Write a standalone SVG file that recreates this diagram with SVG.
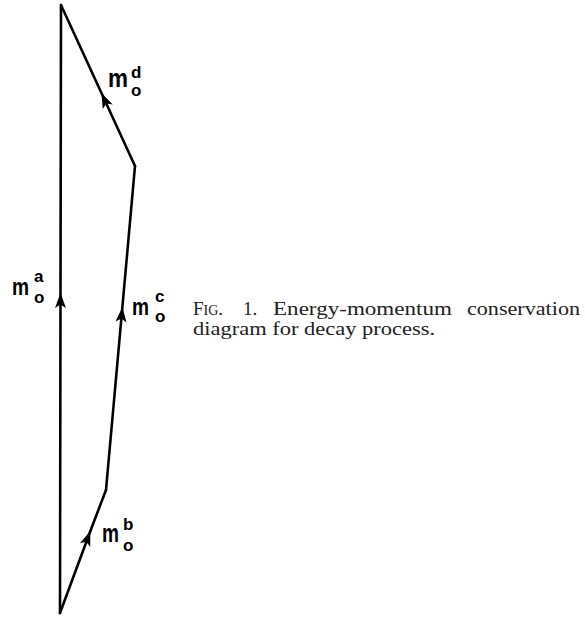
<svg xmlns="http://www.w3.org/2000/svg" width="585" height="620" viewBox="0 0 585 620">
<defs>
<marker id="arr" markerUnits="userSpaceOnUse" markerWidth="18" markerHeight="14" viewBox="-16 -7 18 14" refX="0" refY="0" orient="auto">
<path d="M1,0 L-14,-5.5 L-10.5,0 L-14,5.5 Z" fill="#000"/>
</marker>
<style>
.vec{fill:none;stroke:#000;stroke-width:2.6;stroke-linejoin:round;stroke-linecap:round;marker-mid:url(#arr)}
.lab{font-family:"Liberation Sans",Arial,sans-serif;font-weight:bold;fill:#000}
.s{font-size:17px}
.cap{font-family:"Liberation Serif","Times New Roman",serif;fill:#222;font-size:19px}
</style>
</defs>
<rect width="585" height="620" fill="#fff"/>
<g id="connectors">
<path id="vec-a" class="vec" d="M60,613 L60.5,294 L61,5"/>
<path id="vec-b" class="vec" d="M60,613 L90,532 L106,490"/>
<path id="vec-c" class="vec" d="M106,490 L122.3,308 L135,166"/>
<path id="vec-d" class="vec" d="M135,166 L101.9,94 L61,5"/>
</g>
<g id="label-a">
<text class="lab"><tspan x="12" y="295" font-size="24" textLength="17" lengthAdjust="spacingAndGlyphs">m</tspan><tspan class="s" x="34" y="282">a</tspan><tspan class="s" x="34" y="303">o</tspan></text>
</g>
<g id="label-b">
<text class="lab"><tspan x="102" y="542" font-size="25" textLength="17" lengthAdjust="spacingAndGlyphs">m</tspan><tspan class="s" x="123" y="530">b</tspan><tspan class="s" x="123" y="551">o</tspan></text>
</g>
<g id="label-c">
<text class="lab"><tspan x="132" y="315" font-size="23" textLength="17" lengthAdjust="spacingAndGlyphs">m</tspan><tspan class="s" x="155" y="302">c</tspan><tspan class="s" x="155" y="322">o</tspan></text>
</g>
<g id="label-d">
<text class="lab"><tspan x="108" y="87" font-size="26" textLength="20" lengthAdjust="spacingAndGlyphs">m</tspan><tspan class="s" x="131" y="78">d</tspan><tspan class="s" x="131" y="96">o</tspan></text>
</g>
<g id="caption">
<text class="cap" x="193" y="315">F<tspan font-size="14">IG</tspan>.</text>
<text class="cap" x="243" y="315">1.</text>
<text class="cap" x="273" y="315" textLength="179" lengthAdjust="spacingAndGlyphs">Energy-momentum</text>
<text class="cap" x="467" y="315" textLength="113" lengthAdjust="spacingAndGlyphs">conservation</text>
<text class="cap" x="193" y="335" textLength="242" lengthAdjust="spacingAndGlyphs">diagram for decay process.</text>
</g>
</svg>
